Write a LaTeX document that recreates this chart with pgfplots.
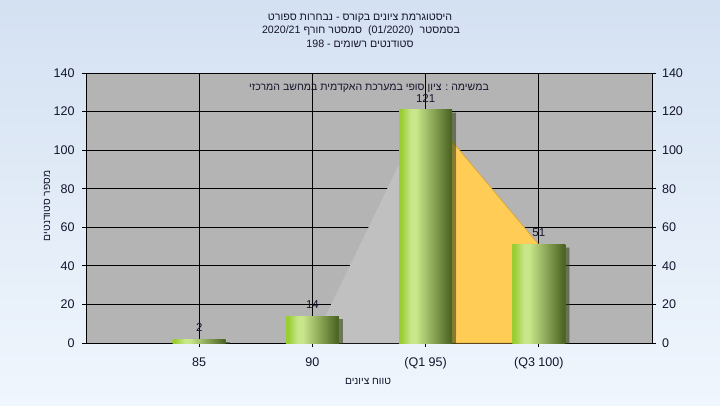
\documentclass[border=0pt]{standalone}
\usepackage{pgfplots}
\pgfplotsset{compat=1.18}
\usepackage{fontspec}
\setmainfont{Liberation Sans}
\newfontfamily\heb[Script=Hebrew]{Liberation Sans}
\TeXXeTstate=1
\usetikzlibrary{shadows}

\definecolor{bgTop}{RGB}{212,225,242}
\definecolor{bgBot}{RGB}{240,246,253}
\definecolor{plotbg}{RGB}{180,180,180}
\definecolor{areagray}{RGB}{192,192,192}
\definecolor{areaorange}{RGB}{255,204,85}
\definecolor{areaedge}{RGB}{215,165,60}
\definecolor{bL}{RGB}{154,205,50}
\definecolor{bM}{RGB}{200,230,138}
\definecolor{bR}{RGB}{78,102,36}
\definecolor{txt}{RGB}{20,20,45}

% TikZ maps 25bp..75bp of the shading onto the path's width
\pgfdeclarehorizontalshading{barshade}{100bp}{color(0bp)=(bL); color(27bp)=(bL); color(36bp)=(bM); color(41bp)=(bM); color(73bp)=(bR); color(100bp)=(bR)}

\pgfplotsset{
  mybar/.style={ybar, bar width=39.75pt, bar shift=0pt, draw=none, shade, shading=barshade,
    drop shadow={shadow xshift=3pt, shadow yshift=-2.5pt, opacity=0.35, fill=black}},
}

\begin{document}
\begin{tikzpicture}
\shade[top color=bgTop, bottom color=bgBot] (0,0) rectangle (540pt,303.75pt);
\useasboundingbox (0,0) rectangle (540pt,303.75pt);

\begin{axis}[
  at={(64.5pt,46.5pt)}, anchor=south west,
  scale only axis, width=424.5pt, height=202.5pt,
  xmin=-1, xmax=4, ymin=0, ymax=140,
  xtick={0,1,2,3}, xticklabels={85,90,(Q1 95),(Q3 100)},
  ytick={0,20,...,140},
  xtick pos=bottom, ytick pos=left,
  tick align=outside, major tick length=3pt,
  grid=major, grid style={black, line width=0.75pt},
  axis line style={black, line width=0.75pt},
  tick style={black, line width=0.75pt},
  axis background/.style={fill=plotbg},
  /pgf/number format/assume math mode=true,
  ticklabel style={font=\fontsize{9.4}{11}\selectfont, text=txt},
  yticklabel style={xshift=-2pt},
  xticklabel style={yshift=-4.5pt},
]
\addplot[fill=areagray, draw=none] coordinates {(1,0) (2,121)} \closedcycle;
\addplot[fill=areaorange, draw=areaedge, line width=0.5pt] coordinates {(2,121) (3,51)} \closedcycle;
\addplot[mybar] coordinates {(0,2)};
\addplot[mybar] coordinates {(1,14)};
\addplot[mybar] coordinates {(2,121)};
\addplot[mybar] coordinates {(3,51)};
\addplot[draw=none, mark=none, nodes near coords,
  nodes near coords style={font=\fontsize{8.6}{10}\selectfont, text=txt, anchor=south, inner sep=0pt, yshift=5.5pt}]
  coordinates {(0,2) (1,14) (2,121) (3,51)};
\node[font=\heb\fontsize{7.9}{10}\selectfont, text=txt] at (rel axis cs:0.5,0.945)
  {\beginR במשימה : ציון סופי במערכת האקדמית במחשב המרכזי\endR};
\end{axis}

\begin{axis}[
  at={(64.5pt,46.5pt)}, anchor=south west,
  scale only axis, width=424.5pt, height=202.5pt,
  xmin=-1, xmax=4, ymin=0, ymax=140,
  ytick={0,20,...,140},
  axis x line=none, axis y line*=right,
  tick align=outside, major tick length=3pt,
  axis line style={black, line width=0.75pt, -},
  tick style={black, line width=0.75pt},
  /pgf/number format/assume math mode=true,
  ticklabel style={font=\fontsize{9.4}{11}\selectfont, text=txt},
  yticklabel style={xshift=1pt},
]
\end{axis}

\begin{scope}[x=0.75pt,y=0.75pt]
\node[font=\heb\fontsize{8}{10}\selectfont, text=txt] at (360,387)
  {\beginR היסטוגרמת ציונים בקורס - נבחרות ספורט\endR};
\node[font=\heb\fontsize{8}{10}\selectfont, text=txt] at (361,374.5)
  {\beginR בסמסטר \ \beginL(01/2020)\endL{} \ סמסטר חורף \beginL2020/21\endL\endR};
\node[font=\heb\fontsize{8}{10}\selectfont, text=txt] at (360,361.5)
  {\beginR סטודנטים רשומים - \beginL198\endL\endR};
\node[font=\heb\fontsize{7.7}{10}\selectfont, text=txt, rotate=90] at (47,199)
  {\beginR מספר סטודנטים\endR};
\node[font=\heb\fontsize{7.7}{10}\selectfont, text=txt] at (368,24)
  {\beginR טווח ציונים\endR};
\end{scope}
\end{tikzpicture}
\end{document}
